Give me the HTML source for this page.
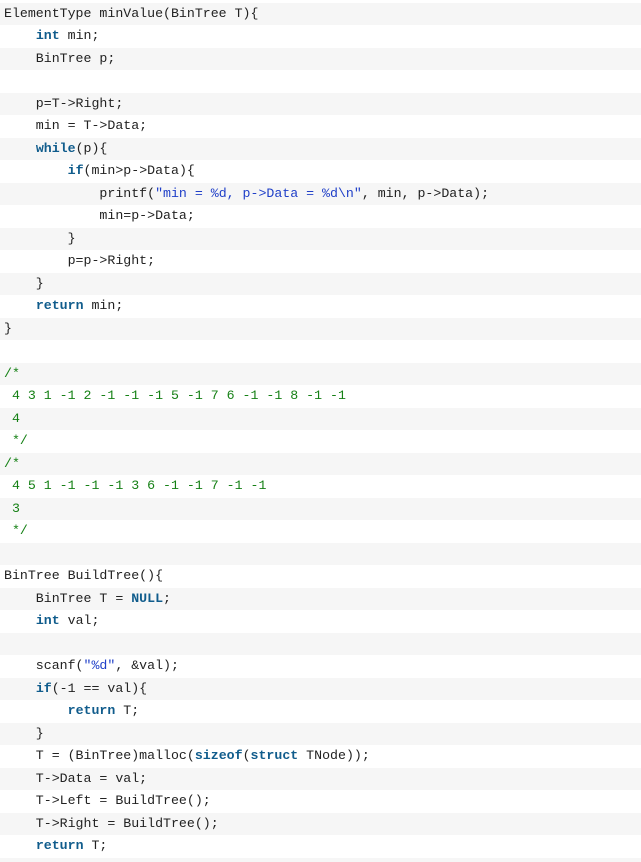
<!DOCTYPE html>
<html><head><meta charset="utf-8"><style>
html,body{margin:0;padding:0;background:#fff;width:641px;height:861px;overflow:hidden}
.c{position:absolute;top:2.5px;left:0;width:641px;font-family:"Liberation Mono",monospace;font-size:13.25px;color:#222}
.l{height:22.5px;line-height:22.5px;white-space:pre;padding-left:4px}
.l:nth-child(odd){background:#f6f6f6}
.k{color:#105c8c;font-weight:bold}
.s{color:#1f3fc8}
.g{color:#158015}
.b{position:absolute;left:0;top:857.5px;width:641px;height:4px;background:#f6f6f6}
</style></head><body>
<div class="c">
<div class="l">ElementType minValue(BinTree T){</div>
<div class="l">    <span class="k">int</span> min;</div>
<div class="l">    BinTree p;</div>
<div class="l"> </div>
<div class="l">    p=T-&gt;Right;</div>
<div class="l">    min = T-&gt;Data;</div>
<div class="l">    <span class="k">while</span>(p){</div>
<div class="l">        <span class="k">if</span>(min&gt;p-&gt;Data){</div>
<div class="l">            printf(<span class="s">"min = %d, p-&gt;Data = %d\n"</span>, min, p-&gt;Data);</div>
<div class="l">            min=p-&gt;Data;</div>
<div class="l">        }</div>
<div class="l">        p=p-&gt;Right;</div>
<div class="l">    }</div>
<div class="l">    <span class="k">return</span> min;</div>
<div class="l">}</div>
<div class="l"> </div>
<div class="l g">/*</div>
<div class="l g"> 4 3 1 -1 2 -1 -1 -1 5 -1 7 6 -1 -1 8 -1 -1</div>
<div class="l g"> 4</div>
<div class="l g"> */</div>
<div class="l g">/*</div>
<div class="l g"> 4 5 1 -1 -1 -1 3 6 -1 -1 7 -1 -1</div>
<div class="l g"> 3</div>
<div class="l g"> */</div>
<div class="l"> </div>
<div class="l">BinTree BuildTree(){</div>
<div class="l">    BinTree T = <span class="k">NULL</span>;</div>
<div class="l">    <span class="k">int</span> val;</div>
<div class="l"> </div>
<div class="l">    scanf(<span class="s">"%d"</span>, &amp;val);</div>
<div class="l">    <span class="k">if</span>(-1 == val){</div>
<div class="l">        <span class="k">return</span> T;</div>
<div class="l">    }</div>
<div class="l">    T = (BinTree)malloc(<span class="k">sizeof</span>(<span class="k">struct</span> TNode));</div>
<div class="l">    T-&gt;Data = val;</div>
<div class="l">    T-&gt;Left = BuildTree();</div>
<div class="l">    T-&gt;Right = BuildTree();</div>
<div class="l">    <span class="k">return</span> T;</div>
</div>
<div class="b"></div>
</body></html>
